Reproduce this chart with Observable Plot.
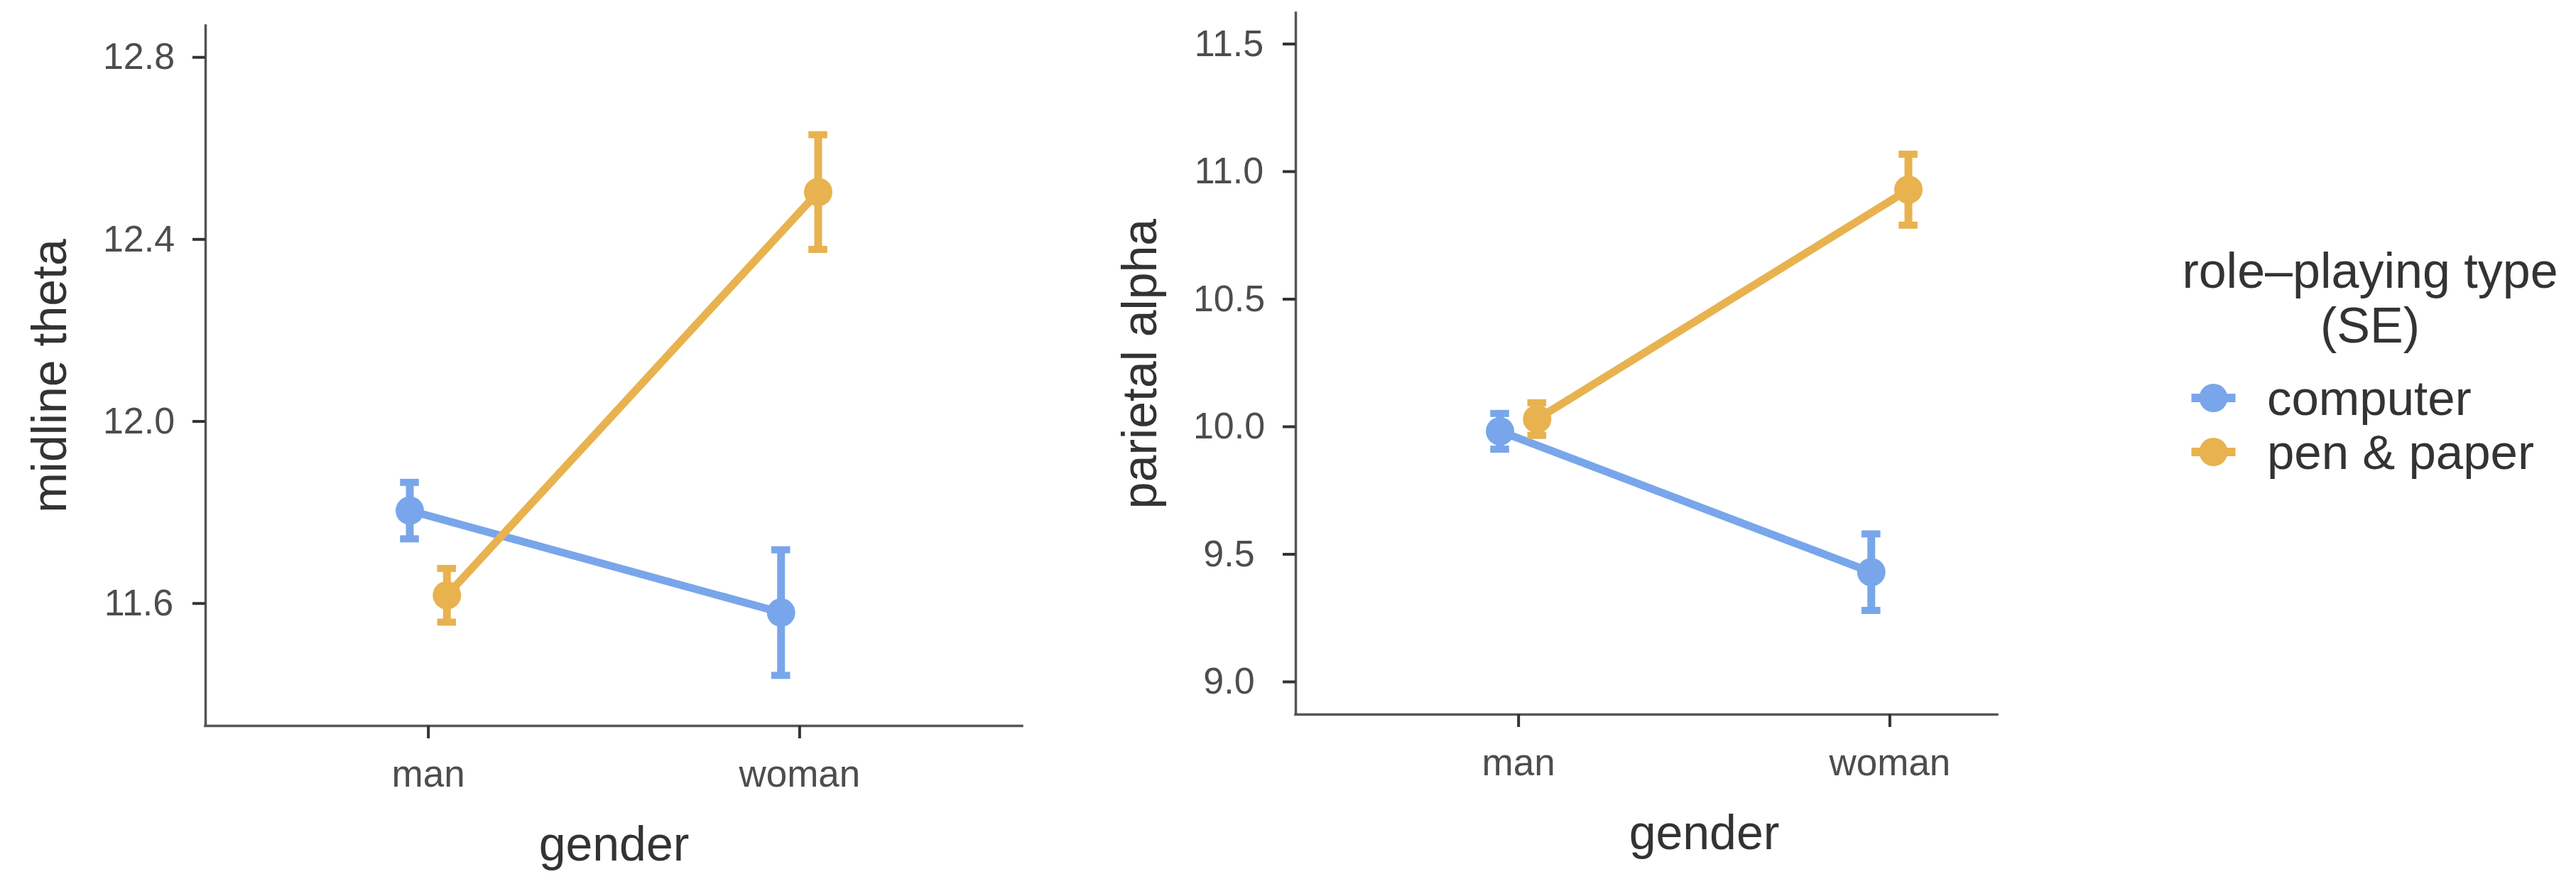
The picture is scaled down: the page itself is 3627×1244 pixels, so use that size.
<!DOCTYPE html>
<html>
<head>
<meta charset="utf-8">
<script src="https://cdn.jsdelivr.net/npm/d3@7"></script>
<script src="https://cdn.jsdelivr.net/npm/@observablehq/plot@0.6"></script>
<style>
  html, body { margin: 0; padding: 0; background: #ffffff; }
  #wrap { position: relative; width: 3627px; height: 1244px; overflow: hidden; background: #ffffff;
          font-family: "Liberation Sans", Arial, sans-serif; }
  #wrap > svg, #wrap > figure { position: absolute; top: 0; margin: 0; }
</style>
</head>
<body>
<div id="wrap"></div>
<script>
// ---------- data ----------
const genders = ["man", "woman"];
const types = ["computer", "pen & paper"];
const typeColors = ["#79a6ea", "#e8b24f"];

const thetaComputerMean = [11.804, 11.580];
const thetaComputerSE   = [0.062, 0.138];
const thetaPaperMean    = [11.618, 12.504];
const thetaPaperSE      = [0.059, 0.126];

const alphaComputerMean = [9.982, 9.430];
const alphaComputerSE   = [0.070, 0.150];
const alphaPaperMean    = [10.030, 10.929];
const alphaPaperSE      = [0.064, 0.139];

const thetaTicks = [11.6, 12.0, 12.4, 12.8];
const alphaTicks = [9.0, 9.5, 10.0, 10.5, 11.0, 11.5];
const thetaDomain = [11.331, 12.869];
const alphaDomain = [8.872, 11.621];
const thetaXDomain = [0.4, 2.6];
const alphaXDomain = [0.4, 2.29];

const xLabel = "gender";
const thetaLabel = "midline theta";
const alphaLabel = "parietal alpha";
const legendTitle = ["role\u2013playing type", "(SE)"];

// ---------- helpers ----------
const FONT = "'Liberation Sans', Arial, sans-serif";
const dodge = 0.05;      // position dodge (x units)
const capHalf = 0.0254;  // error bar cap half width (x units)

function rows(meansByType, sesByType) {
  const out = [];
  types.forEach((t, ti) => {
    genders.forEach((g, gi) => {
      out.push({gender: g, gi: gi + 1, type: t, ti,
                mean: meansByType[ti][gi], se: sesByType[ti][gi]});
    });
  });
  return out;
}
const xPos = d => d.gi + (d.ti === 0 ? -dodge : dodge);

function panel({width, height, marginLeft, marginRight, marginTop, marginBottom,
                xDomain, yDomain, yTicks, yLabel, data}) {
  return Plot.plot({
    width, height, marginLeft, marginRight, marginTop, marginBottom,
    style: {fontFamily: FONT, background: "transparent", color: "#4d4d4d", overflow: "visible"},
    x: {type: "linear", domain: xDomain, axis: null},
    y: {domain: yDomain, axis: null},
    color: {domain: types, range: typeColors},
    marks: [
      // axis lines
      Plot.ruleX([xDomain[0]], {stroke: "#555555", strokeWidth: 3.5, strokeLinecap: "square"}),
      Plot.ruleY([yDomain[0]], {stroke: "#555555", strokeWidth: 3.5, strokeLinecap: "square"}),
      Plot.axisY({ticks: yTicks, tickFormat: d => d.toFixed(1), tickSize: 18, tickPadding: 76,
                  textAnchor: "middle", fontSize: 52, label: null,
                  stroke: "#333333", strokeWidth: 4, fill: "#4d4d4d"}),
      Plot.axisX({ticks: [1, 2], tickFormat: i => genders[i - 1], tickSize: 18, tickPadding: 30,
                  fontSize: 53, label: null, stroke: "#333333", strokeWidth: 4, fill: "#4d4d4d"}),
      // axis titles
      Plot.text([yLabel], {frameAnchor: "left", dx: -197, rotate: -90, textAnchor: "middle",
                           lineAnchor: "bottom", fontSize: 68, fill: "#333333", text: d => d}),
      Plot.text([xLabel], {x: () => (xDomain[0] + 2.6) / 2, frameAnchor: "bottom", dy: 189,
                           textAnchor: "middle", lineAnchor: "bottom", fontSize: 68,
                           fill: "#333333", text: d => d}),
      // connecting lines
      Plot.line(data, {x: xPos, y: "mean", z: "type", stroke: "type", strokeWidth: 11}),
      // error bars
      Plot.ruleX(data, {x: xPos, y1: d => d.mean - d.se, y2: d => d.mean + d.se,
                        stroke: "type", strokeWidth: 11}),
      Plot.ruleY(data, {y: d => d.mean + d.se, x1: d => xPos(d) - capHalf, x2: d => xPos(d) + capHalf,
                        stroke: "type", strokeWidth: 10}),
      Plot.ruleY(data, {y: d => d.mean - d.se, x1: d => xPos(d) - capHalf, x2: d => xPos(d) + capHalf,
                        stroke: "type", strokeWidth: 10}),
      // points
      Plot.dot(data, {x: xPos, y: "mean", fill: "type", r: 20, stroke: "none"})
    ]
  });
}

const wrap = document.getElementById("wrap");

const left = panel({
  width: 1500, height: 1244, marginLeft: 289, marginRight: 61, marginTop: 36, marginBottom: 223,
  xDomain: thetaXDomain, yDomain: thetaDomain, yTicks: thetaTicks, yLabel: thetaLabel,
  data: rows([thetaComputerMean, thetaPaperMean], [thetaComputerSE, thetaPaperSE])
});
left.style.left = "0px";
wrap.appendChild(left);

const right = panel({
  width: 1520, height: 1244, marginLeft: 324, marginRight: 208, marginTop: 18, marginBottom: 239,
  xDomain: alphaXDomain, yDomain: alphaDomain, yTicks: alphaTicks, yLabel: alphaLabel,
  data: rows([alphaComputerMean, alphaPaperMean], [alphaComputerSE, alphaPaperSE])
});
right.style.left = "1500px";
wrap.appendChild(right);

// ---------- legend ----------
const lx = 3000;
const lg = d3.select(wrap).append("svg")
  .attr("width", 627).attr("height", 1244)
  .style("left", lx + "px")
  .attr("font-family", FONT);
lg.selectAll("text.title").data(legendTitle).join("text")
  .attr("class", "title")
  .attr("x", 3337 - lx).attr("y", (d, i) => 405 + i * 77)
  .attr("text-anchor", "middle").attr("font-size", 70).attr("fill", "#333333")
  .text(d => d);
const items = lg.selectAll("g.item").data(types).join("g")
  .attr("class", "item")
  .attr("transform", (d, i) => `translate(${3116.5 - lx},${560 + i * 76})`);
items.append("line").attr("x1", -31).attr("x2", 31).attr("y1", 0).attr("y2", 0)
  .attr("stroke", (d, i) => typeColors[i]).attr("stroke-width", 12);
items.append("circle").attr("r", 20).attr("fill", (d, i) => typeColors[i]);
items.append("text").attr("x", 3192 - 3116.5).attr("y", 24)
  .attr("font-size", 69).attr("fill", "#333333").text(d => d);
</script>
</body>
</html>
